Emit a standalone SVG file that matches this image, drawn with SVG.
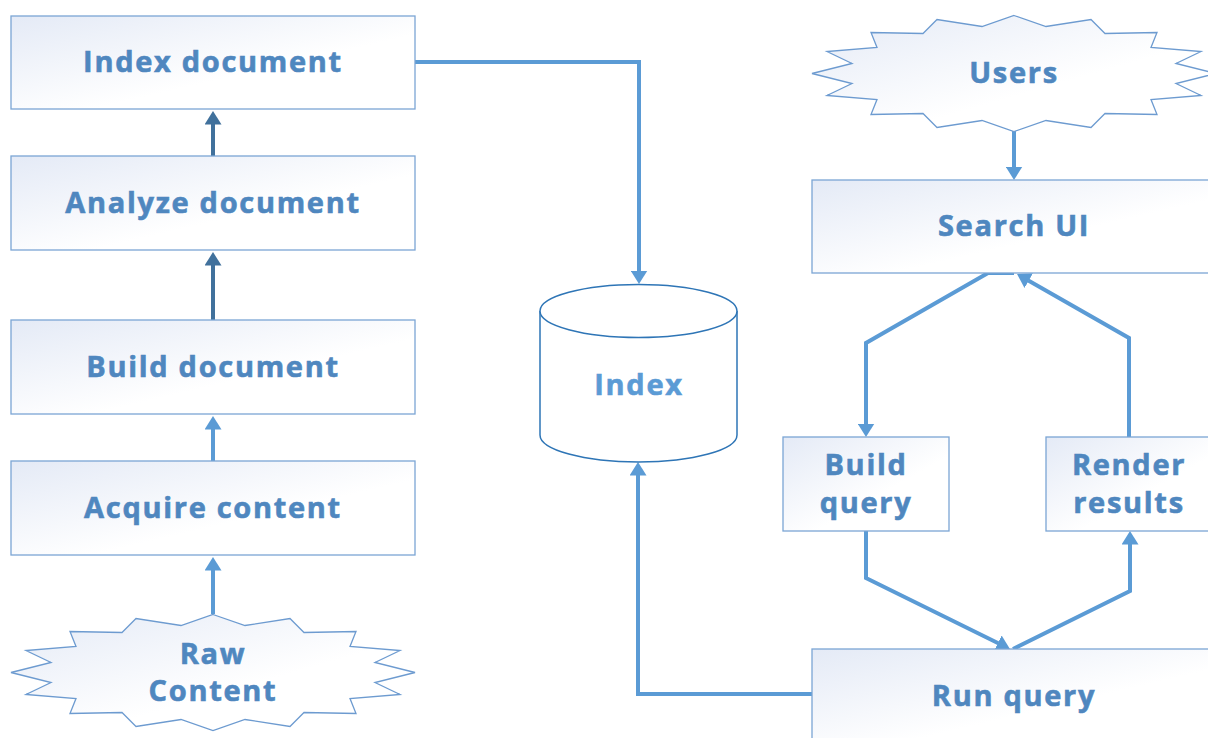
<svg xmlns="http://www.w3.org/2000/svg" width="1208" height="738" viewBox="0 0 1208 738">
<defs>
<linearGradient id="g" x1="0" y1="0" x2="1" y2="1">
<stop offset="0" stop-color="#e4eaf6"/>
<stop offset="0.6" stop-color="#ffffff"/>
</linearGradient>
<path id="star" d="M0,-58 L32,-47 L77,-54 L91,-40 L143,-41 L137,-26 L187,-22 L162,-10 L202,0 L162,10 L187,22 L137,26 L143,41 L91,40 L77,54 L32,47 L0,58 L-32,47 L-77,54 L-91,40 L-143,41 L-137,26 L-187,22 L-162,10 L-202,0 L-162,-10 L-187,-22 L-137,-26 L-143,-41 L-91,-40 L-77,-54 L-32,-47 Z"/>
<marker id="al" markerUnits="userSpaceOnUse" markerWidth="14" markerHeight="17" viewBox="0 0 14 17" refX="0.5" refY="8.5" orient="auto">
<path d="M0,0 L13.5,8.5 L0,17 Z" fill="#5b9bd5"/>
</marker>
<marker id="ad" markerUnits="userSpaceOnUse" markerWidth="14" markerHeight="17" viewBox="0 0 14 17" refX="0.5" refY="8.5" orient="auto">
<path d="M0,0 L13.5,8.5 L0,17 Z" fill="#41719c"/>
</marker>
<style>
.box{fill:url(#g);stroke:#7ba5d4;stroke-width:1.3}
.t{font-family:"Open Sans","DejaVu Sans",sans-serif;font-weight:700;font-size:29px;fill:#4f87bf;stroke:#4f87bf;stroke-width:0.6px;text-anchor:middle;letter-spacing:1.7px}
.cl{fill:none;stroke:#5b9bd5;stroke-width:4;stroke-linejoin:miter}
.cd{fill:none;stroke:#41719c;stroke-width:4}
.cyl{fill:#ffffff;stroke:#2e75b6;stroke-width:1.5}
</style>
</defs>
<rect width="1208" height="738" fill="#ffffff"/>

<g id="connectors">
<path class="cd" d="M213,156 V124" marker-end="url(#ad)"/>
<path class="cd" d="M213,320 V265" marker-end="url(#ad)"/>
<path class="cl" d="M213,461 V429" marker-end="url(#al)"/>
<path class="cl" d="M213,614 V570" marker-end="url(#al)"/>
<path class="cl" d="M415,62 H639 V271" marker-end="url(#al)"/>
<path class="cl" d="M1014,131 V167" marker-end="url(#al)"/>
<path class="cl" d="M1014,273 H988 L866,343 V424" marker-end="url(#al)"/>
<path class="cl" d="M1129,437 V338 L1028.3,280.4" marker-end="url(#al)"/>
<path class="cl" d="M866,531 V578 L998.3,643.3" marker-end="url(#al)"/>
<path class="cl" d="M1013,649 L1130,591 V544" marker-end="url(#al)"/>
<path class="cl" d="M812,694 H638 V475" marker-end="url(#al)"/>
</g>

<g id="index-document">
<rect class="box" x="11" y="16" width="404" height="93"/>
<text class="t" x="213" y="72">Index document</text>
</g>
<g id="analyze-document">
<rect class="box" x="11" y="156" width="404" height="94"/>
<text class="t" x="213" y="213">Analyze document</text>
</g>
<g id="build-document">
<rect class="box" x="11" y="320" width="404" height="94"/>
<text class="t" x="213" y="377">Build document</text>
</g>
<g id="acquire-content">
<rect class="box" x="11" y="461" width="404" height="94"/>
<text class="t" x="213" y="518">Acquire content</text>
</g>
<g id="raw-content">
<use href="#star" transform="translate(213,672.5)" fill="url(#g)" stroke="#6d9bd0" stroke-width="1.3"/>
<text class="t" x="213" y="664">Raw</text>
<text class="t" x="213" y="701">Content</text>
</g>

<g id="index">
<path class="cyl" d="M540,311 V435 A98.5,27 0 0 0 737,435 V311"/>
<ellipse class="cyl" cx="638.5" cy="311" rx="98.5" ry="26.5"/>
<text class="t" x="639" y="395" style="fill:#5b9bd5;stroke:#5b9bd5">Index</text>
</g>

<g id="users">
<use href="#star" transform="translate(1014,73.5)" fill="url(#g)" stroke="#6d9bd0" stroke-width="1.3"/>
<text class="t" x="1014" y="83">Users</text>
</g>
<g id="search-ui">
<rect class="box" x="812" y="180" width="404" height="93"/>
<text class="t" x="1014" y="236">Search UI</text>
</g>
<g id="build-query">
<rect class="box" x="783" y="437" width="166" height="94"/>
<text class="t" x="866" y="475">Build</text>
<text class="t" x="866" y="513">query</text>
</g>
<g id="render-results">
<rect class="box" x="1046" y="437" width="166" height="94"/>
<text class="t" x="1129" y="475">Render</text>
<text class="t" x="1129" y="513">results</text>
</g>
<g id="run-query">
<rect class="box" x="812" y="649" width="404" height="96"/>
<text class="t" x="1014" y="706">Run query</text>
</g>
</svg>
